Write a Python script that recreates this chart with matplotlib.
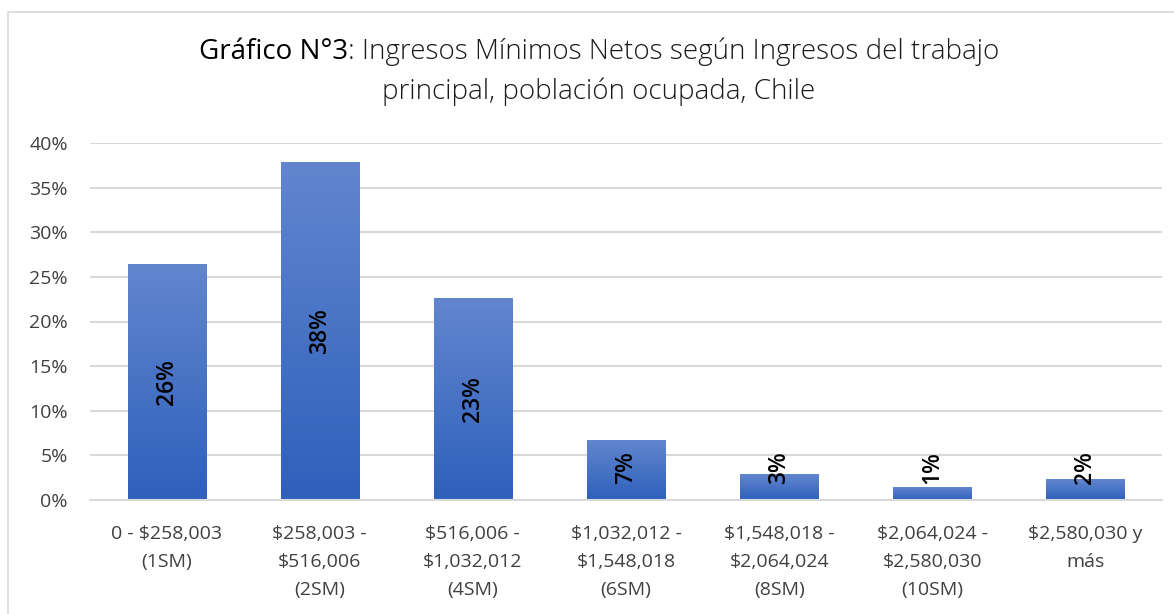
import matplotlib.pyplot as plt
import matplotlib.patches as mpatches
import numpy as np

categories = [
    "0 - $258,003\n(1SM)",
    "$258,003 -\n$516,006\n(2SM)",
    "$516,006 -\n$1,032,012\n(4SM)",
    "$1,032,012 -\n$1,548,018\n(6SM)",
    "$1,548,018 -\n$2,064,024\n(8SM)",
    "$2,064,024 -\n$2,580,030\n(10SM)",
    "$2,580,030 y\nmás",
]
values = [26.4, 37.9, 22.6, 6.7, 2.9, 1.45, 2.3]
yticks = [0, 5, 10, 15, 20, 25, 30, 35, 40]

plt.rcParams['font.family'] = ['Open Sans', 'DejaVu Sans']

fig = plt.figure(figsize=(11.74, 6.14), dpi=100)
ax = fig.add_axes([90 / 1174, 114 / 614, 1072 / 1174, 357 / 614])

# chart border (only left and top edges visible in the crop)
fig.patches.append(mpatches.Rectangle((8 / 1174, -0.5), 1.1, 0.5 + 602 / 614,
                                      transform=fig.transFigure,
                                      fill=False, edgecolor='#D9D9D9', lw=1.2))

x = np.arange(len(values))
bars = ax.bar(x, values, width=0.51, color='none', zorder=2)

# vertical gradient in each bar
grad = np.linspace(0, 1, 256).reshape(-1, 1)
cmap = plt.matplotlib.colors.LinearSegmentedColormap.from_list('g', ['#2E60BC', '#6286CE'])
for b in bars:
    x0, w, h = b.get_x(), b.get_width(), b.get_height()
    im = ax.imshow(grad, extent=(x0, x0 + w, 0, h), origin='lower', cmap=cmap,
                   aspect='auto', zorder=2)
    im.set_clip_path(b)

for xi, v in zip(x, values):
    ax.text(xi, max(v / 2, 3.6), f"{int(v + 0.5)}%", rotation=90, ha='center', va='center',
            fontsize=16.5, fontweight='semibold', color='black', zorder=3)

ax.set_xlim(-0.5, len(values) - 0.5)
ax.set_ylim(0, 40)
ax.set_yticks(yticks)
ax.set_yticklabels([f"{t}%" for t in yticks], fontsize=14, color='#404040')
ax.set_xticks(x)
ax.set_xticklabels(categories, fontsize=14, color='#404040', linespacing=1.72)
ax.tick_params(axis='x', length=0, pad=18)
ax.tick_params(axis='y', length=0, pad=16)
ax.grid(axis='y', color='#D9D9D9', lw=1.5, zorder=0)
ax.set_axisbelow(True)
for s in ['top', 'right', 'left']:
    ax.spines[s].set_visible(False)
ax.spines['bottom'].set_color('#D9D9D9')
ax.spines['bottom'].set_linewidth(1.5)

# title: first part heavier, rest light, centred as a whole
fs = 20
ty1, ty2 = 1 - 52 / 614, 1 - 92 / 614
t1 = fig.text(0, ty1, "Gráfico N°3", ha='left', va='center', fontsize=fs,
              fontweight='medium', color='black')
t2 = fig.text(0, ty1, ": Ingresos Mínimos Netos según Ingresos del trabajo",
              ha='left', va='center', fontsize=fs, fontweight='light', color='#1a1a1a')
fig.canvas.draw()
r = fig.canvas.get_renderer()
w1 = t1.get_window_extent(r).width
w2 = t2.get_window_extent(r).width
start = 599 - (w1 + w2) / 2
t1.set_x(start / 1174)
t2.set_x((start + w1) / 1174)
fig.text(599 / 1174, ty2, "principal, población ocupada, Chile", ha='center', va='center',
         fontsize=fs, fontweight='light', color='#1a1a1a')

fig.savefig('out.png', dpi=100)
